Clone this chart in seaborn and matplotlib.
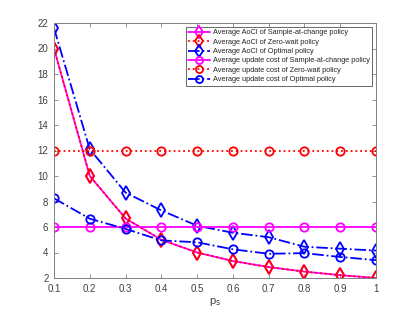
import numpy as np
import pandas as pd
import matplotlib
matplotlib.use('Agg')
import matplotlib.pyplot as plt
import seaborn as sns

ps = [0.1, 0.2, 0.3, 0.4, 0.5, 0.6, 0.7, 0.8, 0.9, 1.0]
aoci_sac = [20.0, 10.0, 6.67, 5.0, 4.0, 3.33, 2.86, 2.5, 2.22, 2.0]
aoci_zw = [20.0, 10.0, 6.67, 5.0, 4.0, 3.33, 2.86, 2.5, 2.22, 2.0]
aoci_opt = [21.6, 12.1, 8.7, 7.3, 6.1, 5.55, 5.2, 4.45, 4.3, 4.15]
cost_sac = [6, 6, 6, 6, 6, 6, 6, 6, 6, 6]
cost_zw = [12, 12, 12, 12, 12, 12, 12, 12, 12, 12]
cost_opt = [8.25, 6.65, 5.85, 4.95, 4.8, 4.25, 3.9, 3.95, 3.65, 3.4]

sns.set_style('white')
plt.rcParams['font.family'] = ['Liberation Sans', 'DejaVu Sans']

fig = plt.figure(figsize=(4.15, 3.12), dpi=100)
ax = fig.add_axes([54 / 415, 1 - 278 / 312, 322 / 415, 255 / 312])

series = [
    (aoci_sac, 'Average AoCI of Sample-at-change policy', '#ff00ff', '-', 'd'),
    (aoci_zw, 'Average AoCI of Zero-wait policy', '#ff0000', ':', 'd'),
    (aoci_opt, 'Average AoCI of Optimal policy', '#0000ff', '-.', 'd'),
    (cost_sac, 'Average update cost of Sample-at-change policy', '#ff00ff', '-', 'o'),
    (cost_zw, 'Average update cost of Zero-wait policy', '#ff0000', ':', 'o'),
    (cost_opt, 'Average update cost of Optimal policy', '#0000ff', '-.', 'o'),
]

for vals, name, color, ls, mk in series:
    df = pd.DataFrame({'ps': ps, 'v': vals})
    sns.lineplot(data=df, x='ps', y='v', ax=ax, color=color, linestyle=ls,
                 linewidth=1.3, marker=mk, markersize=6 if mk == 'o' else 7.5,
                 markerfacecolor='none', markeredgecolor=color,
                 markeredgewidth=1.3, label=name)

ax.set_xlim(0.1, 1)
ax.set_ylim(2, 22)
ax.set_xticks(ps)
ax.set_xticklabels(['0.1', '0.2', '0.3', '0.4', '0.5', '0.6', '0.7', '0.8', '0.9', '1'])
ax.set_yticks(np.arange(2, 23, 2))
ax.set_xlabel(r'p$_\mathrm{s}$', fontsize=8, color='#404040', labelpad=2)
ax.set_ylabel('')
for s in ax.spines.values():
    s.set_color('#808080')
    s.set_linewidth(0.7)
ax.tick_params(axis='both', direction='in', length=3, width=0.6, color='#808080',
               labelsize=7, labelcolor='#404040', top=True, right=True,
               bottom=True, left=True)
ax.tick_params(axis='x', pad=4)
ax.tick_params(axis='y', pad=4)

leg = ax.legend(loc='upper right', fontsize=5.3, frameon=True, fancybox=False,
                edgecolor='#404040', borderaxespad=0.5, handlelength=3.0,
                labelspacing=0.3, borderpad=0.35, handletextpad=0.35,
                markerscale=0.85)
leg.get_frame().set_linewidth(0.7)

fig.savefig('out.png', dpi=100)
